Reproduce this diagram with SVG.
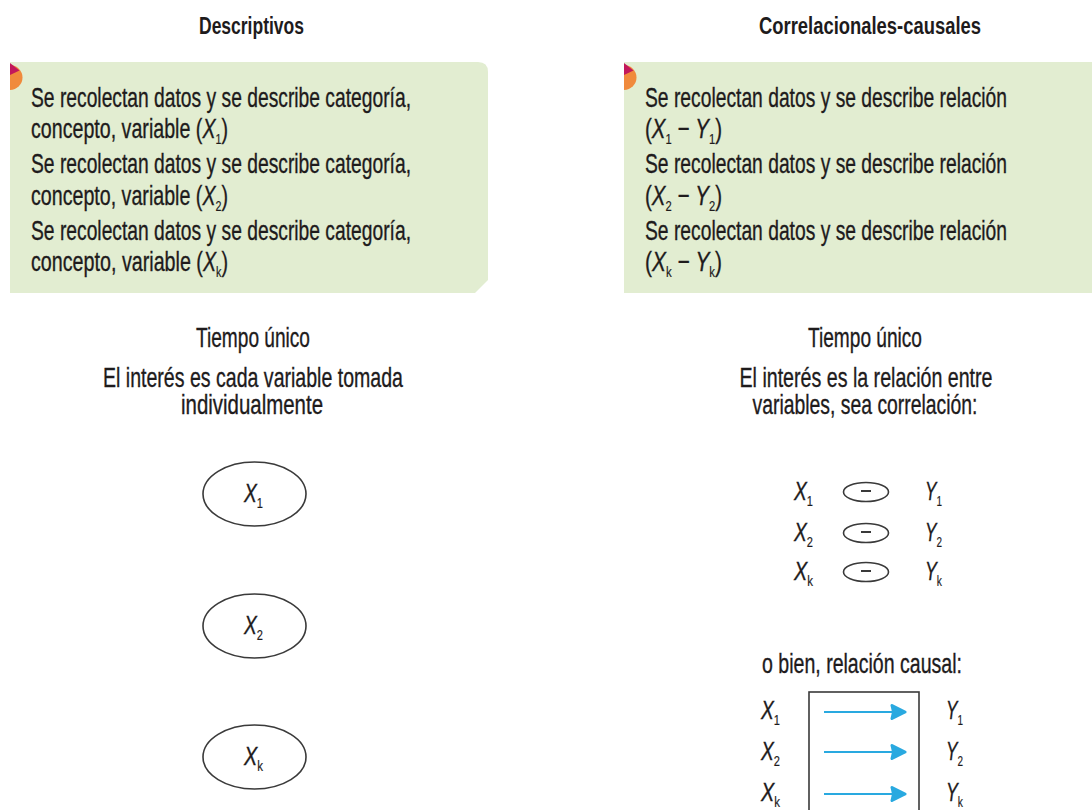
<svg xmlns="http://www.w3.org/2000/svg" width="1092" height="810" viewBox="0 0 1092 810">
<style>
text{font-family:"Liberation Sans",Arial,sans-serif;fill:#1e1b1c;stroke:#1e1b1c;stroke-width:0.35}
.h{font-size:23px;font-weight:bold;stroke-width:0}
.b{font-size:27.5px}
.m{font-size:27.5px}
.v{font-style:italic;font-size:26px}
.s{font-size:15px;font-style:normal;stroke-width:0.2}
.box{fill:#e2edd1}
.el{fill:none;stroke:#3a3a3a;stroke-width:1.6}
.arr{stroke:#29a9e0;stroke-width:2;fill:none}
</style>
<defs>
<marker id="ah" viewBox="0 0 18 18" refX="17" refY="9" markerWidth="18" markerHeight="18" markerUnits="userSpaceOnUse" orient="auto">
<path d="M3,2.5 L16,9 L3,15.5 L4.5,9 Z" fill="#29a9e0" stroke="#29a9e0" stroke-width="3" stroke-linejoin="round"/>
</marker>
</defs>
<rect width="1092" height="810" fill="#fff"/>

<g id="col-descriptivos">
<text class="h" x="251.5" y="34" text-anchor="middle" textLength="105" lengthAdjust="spacingAndGlyphs">Descriptivos</text>
<path class="box" d="M10,62 H478 Q488,62 488,72 V280 L475,293 H10 Z"/>
<path d="M10,65 A12.5,12.5 0 0 1 10,90 Z" fill="#f08a3c"/>
<path d="M10,63 L19.5,70.5 L10,75 Z" fill="#c2185b"/>
<text class="b" x="31" y="107" textLength="380" lengthAdjust="spacingAndGlyphs">Se recolectan datos y se describe categoría,</text>
<text class="b" x="31" y="138" textLength="197" lengthAdjust="spacingAndGlyphs">concepto, variable (<tspan font-style="italic">X</tspan><tspan class="s" dy="6">1</tspan><tspan dy="-6">)</tspan></text>
<text class="b" x="31" y="173" textLength="380" lengthAdjust="spacingAndGlyphs">Se recolectan datos y se describe categoría,</text>
<text class="b" x="31" y="205" textLength="197" lengthAdjust="spacingAndGlyphs">concepto, variable (<tspan font-style="italic">X</tspan><tspan class="s" dy="6">2</tspan><tspan dy="-6">)</tspan></text>
<text class="b" x="31" y="240" textLength="380" lengthAdjust="spacingAndGlyphs">Se recolectan datos y se describe categoría,</text>
<text class="b" x="31" y="271" textLength="197" lengthAdjust="spacingAndGlyphs">concepto, variable (<tspan font-style="italic">X</tspan><tspan class="s" dy="6" font-style="italic">k</tspan><tspan dy="-6">)</tspan></text>
<text class="m" x="253" y="347" text-anchor="middle" textLength="114" lengthAdjust="spacingAndGlyphs">Tiempo único</text>
<text class="m" x="253" y="387" text-anchor="middle" textLength="300" lengthAdjust="spacingAndGlyphs">El interés es cada variable tomada</text>
<text class="m" x="252" y="414" text-anchor="middle" textLength="142" lengthAdjust="spacingAndGlyphs">individualmente</text>
</g>

<g id="node-x1">
<ellipse class="el" cx="254.5" cy="494" rx="51.5" ry="32"/>
<text class="v" x="244" y="502" textLength="19" lengthAdjust="spacingAndGlyphs">X<tspan class="s" dy="6">1</tspan></text>
</g>
<g id="node-x2">
<ellipse class="el" cx="254.5" cy="626" rx="51.5" ry="32"/>
<text class="v" x="244" y="634" textLength="19" lengthAdjust="spacingAndGlyphs">X<tspan class="s" dy="6">2</tspan></text>
</g>
<g id="node-xk">
<ellipse class="el" cx="254.5" cy="757" rx="51.5" ry="32"/>
<text class="v" x="244" y="765" textLength="19" lengthAdjust="spacingAndGlyphs">X<tspan class="s" dy="6" font-style="italic">k</tspan></text>
</g>

<g id="col-correlacionales">
<text class="h" x="870" y="34" text-anchor="middle" textLength="222" lengthAdjust="spacingAndGlyphs">Correlacionales-causales</text>
<path class="box" d="M624,62 H1092 V293 H624 Z"/>
<path d="M624,65 A12.5,12.5 0 0 1 624,90 Z" fill="#f08a3c"/>
<path d="M624,63 L633.5,70.5 L624,75 Z" fill="#c2185b"/>
<text class="b" x="645" y="107" textLength="362" lengthAdjust="spacingAndGlyphs">Se recolectan datos y se describe relación</text>
<text class="b" x="645" y="138" textLength="77" lengthAdjust="spacingAndGlyphs">(<tspan font-style="italic">X</tspan><tspan class="s" dy="6">1</tspan><tspan dy="-6"> − </tspan><tspan font-style="italic">Y</tspan><tspan class="s" dy="6">1</tspan><tspan dy="-6">)</tspan></text>
<text class="b" x="645" y="173" textLength="362" lengthAdjust="spacingAndGlyphs">Se recolectan datos y se describe relación</text>
<text class="b" x="645" y="205" textLength="77" lengthAdjust="spacingAndGlyphs">(<tspan font-style="italic">X</tspan><tspan class="s" dy="6">2</tspan><tspan dy="-6"> − </tspan><tspan font-style="italic">Y</tspan><tspan class="s" dy="6">2</tspan><tspan dy="-6">)</tspan></text>
<text class="b" x="645" y="240" textLength="362" lengthAdjust="spacingAndGlyphs">Se recolectan datos y se describe relación</text>
<text class="b" x="645" y="271" textLength="77" lengthAdjust="spacingAndGlyphs">(<tspan font-style="italic">X</tspan><tspan class="s" dy="6" font-style="italic">k</tspan><tspan dy="-6"> − </tspan><tspan font-style="italic">Y</tspan><tspan class="s" dy="6" font-style="italic">k</tspan><tspan dy="-6">)</tspan></text>
<text class="m" x="865" y="347" text-anchor="middle" textLength="114" lengthAdjust="spacingAndGlyphs">Tiempo único</text>
<text class="m" x="866" y="387" text-anchor="middle" textLength="253" lengthAdjust="spacingAndGlyphs">El interés es la relación entre</text>
<text class="m" x="865" y="414" text-anchor="middle" textLength="225" lengthAdjust="spacingAndGlyphs">variables, sea correlación:</text>
</g>

<g id="node-corr-1">
<text class="v" x="794" y="500" textLength="19" lengthAdjust="spacingAndGlyphs">X<tspan class="s" dy="6">1</tspan></text>
<ellipse class="el" cx="866" cy="492" rx="22.5" ry="9.5"/>
<line x1="861" y1="491" x2="871" y2="491" stroke="#3a3a3a" stroke-width="2"/>
<text class="v" x="925" y="500" textLength="17" lengthAdjust="spacingAndGlyphs">Y<tspan class="s" dy="6">1</tspan></text>
</g>
<g id="node-corr-2">
<text class="v" x="794" y="541" textLength="19" lengthAdjust="spacingAndGlyphs">X<tspan class="s" dy="6">2</tspan></text>
<ellipse class="el" cx="866" cy="533" rx="22.5" ry="9.5"/>
<line x1="861" y1="532" x2="871" y2="532" stroke="#3a3a3a" stroke-width="2"/>
<text class="v" x="925" y="541" textLength="17" lengthAdjust="spacingAndGlyphs">Y<tspan class="s" dy="6">2</tspan></text>
</g>
<g id="node-corr-k">
<text class="v" x="794" y="580" textLength="19" lengthAdjust="spacingAndGlyphs">X<tspan class="s" dy="6" font-style="italic">k</tspan></text>
<ellipse class="el" cx="866" cy="572" rx="22.5" ry="9.5"/>
<line x1="861" y1="571" x2="871" y2="571" stroke="#3a3a3a" stroke-width="2"/>
<text class="v" x="925" y="580" textLength="17" lengthAdjust="spacingAndGlyphs">Y<tspan class="s" dy="6" font-style="italic">k</tspan></text>
</g>

<g id="causal">
<text class="m" x="862" y="673" text-anchor="middle" textLength="200" lengthAdjust="spacingAndGlyphs">o bien, relación causal:</text>
<rect x="809" y="692" width="110" height="130" fill="none" stroke="#3a3a3a" stroke-width="1.6"/>
<text class="v" x="761" y="719" textLength="19" lengthAdjust="spacingAndGlyphs">X<tspan class="s" dy="6">1</tspan></text>
<text class="v" x="761" y="760" textLength="19" lengthAdjust="spacingAndGlyphs">X<tspan class="s" dy="6">2</tspan></text>
<text class="v" x="761" y="801" textLength="19" lengthAdjust="spacingAndGlyphs">X<tspan class="s" dy="6" font-style="italic">k</tspan></text>
<text class="v" x="946" y="719" textLength="17" lengthAdjust="spacingAndGlyphs">Y<tspan class="s" dy="6">1</tspan></text>
<text class="v" x="946" y="760" textLength="17" lengthAdjust="spacingAndGlyphs">Y<tspan class="s" dy="6">2</tspan></text>
<text class="v" x="946" y="801" textLength="17" lengthAdjust="spacingAndGlyphs">Y<tspan class="s" dy="6" font-style="italic">k</tspan></text>
</g>

<g id="connectors">
<line class="arr" x1="824" y1="712" x2="906" y2="712" marker-end="url(#ah)"/>
<line class="arr" x1="824" y1="752" x2="906" y2="752" marker-end="url(#ah)"/>
<line class="arr" x1="824" y1="794" x2="906" y2="794" marker-end="url(#ah)"/>
</g>
</svg>
